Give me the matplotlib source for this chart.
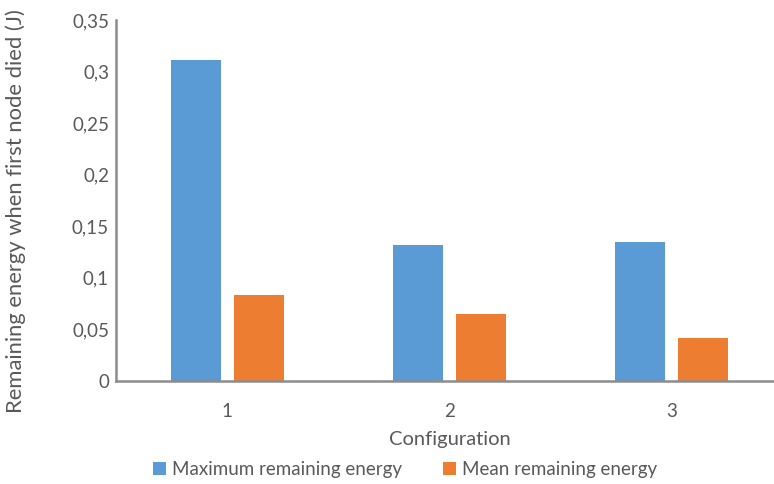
import numpy as np
import matplotlib.pyplot as plt
from matplotlib.ticker import FuncFormatter

configs = ["1", "2", "3"]
max_energy = [0.3115, 0.1318, 0.1343]
mean_energy = [0.0837, 0.0647, 0.0414]

BLUE = "#5B9BD5"
ORANGE = "#ED7D31"
TEXT = "#595959"

plt.rcParams["font.family"] = ["Lato", "DejaVu Sans"]

fig = plt.figure(figsize=(7.74, 4.84), dpi=100)
# plot area runs slightly past the right edge, like the clipped category axis
ax = fig.add_axes([0.1499, 0.2128, 0.8618, 0.7459])

x = np.arange(len(configs))
w = 0.225
ax.bar(x - 0.1416, max_energy, w, color=BLUE, label="Maximum remaining energy")
ax.bar(x + 0.1416, mean_energy, w, color=ORANGE, label="Mean remaining energy")

ax.set_xlim(-0.5, 2.5)
ax.set_ylim(0, 0.35)
ax.set_yticks(np.arange(0, 0.351, 0.05))
ax.yaxis.set_major_formatter(FuncFormatter(lambda v, p: f"{v:.2f}".rstrip("0").rstrip(".").replace(".", ",")))
ax.set_xticks(x)
ax.set_xticklabels(configs)

for s in ["top", "right"]:
    ax.spines[s].set_visible(False)
for s in ["left", "bottom"]:
    ax.spines[s].set_color("#8c8c8c")
    ax.spines[s].set_linewidth(1.8)

ax.tick_params(axis="both", length=0, labelsize=13.5, colors=TEXT)
ax.tick_params(axis="y", pad=5)
ax.tick_params(axis="x", pad=16)

ax.set_xlabel("Configuration", fontsize=14.5, color=TEXT, labelpad=8)
ax.set_ylabel("Remaining energy when first node died (J)", fontsize=15.8, color=TEXT)
ax.yaxis.set_label_coords(-0.135, 0.47)

fig.legend(loc="lower center", bbox_to_anchor=(0.523, -0.022), ncol=2, frameon=False,
           fontsize=13.5, labelcolor=TEXT, handlelength=0.7, handleheight=0.7,
           handletextpad=0.3, columnspacing=2.2)

fig.savefig("out.png", dpi=100)
